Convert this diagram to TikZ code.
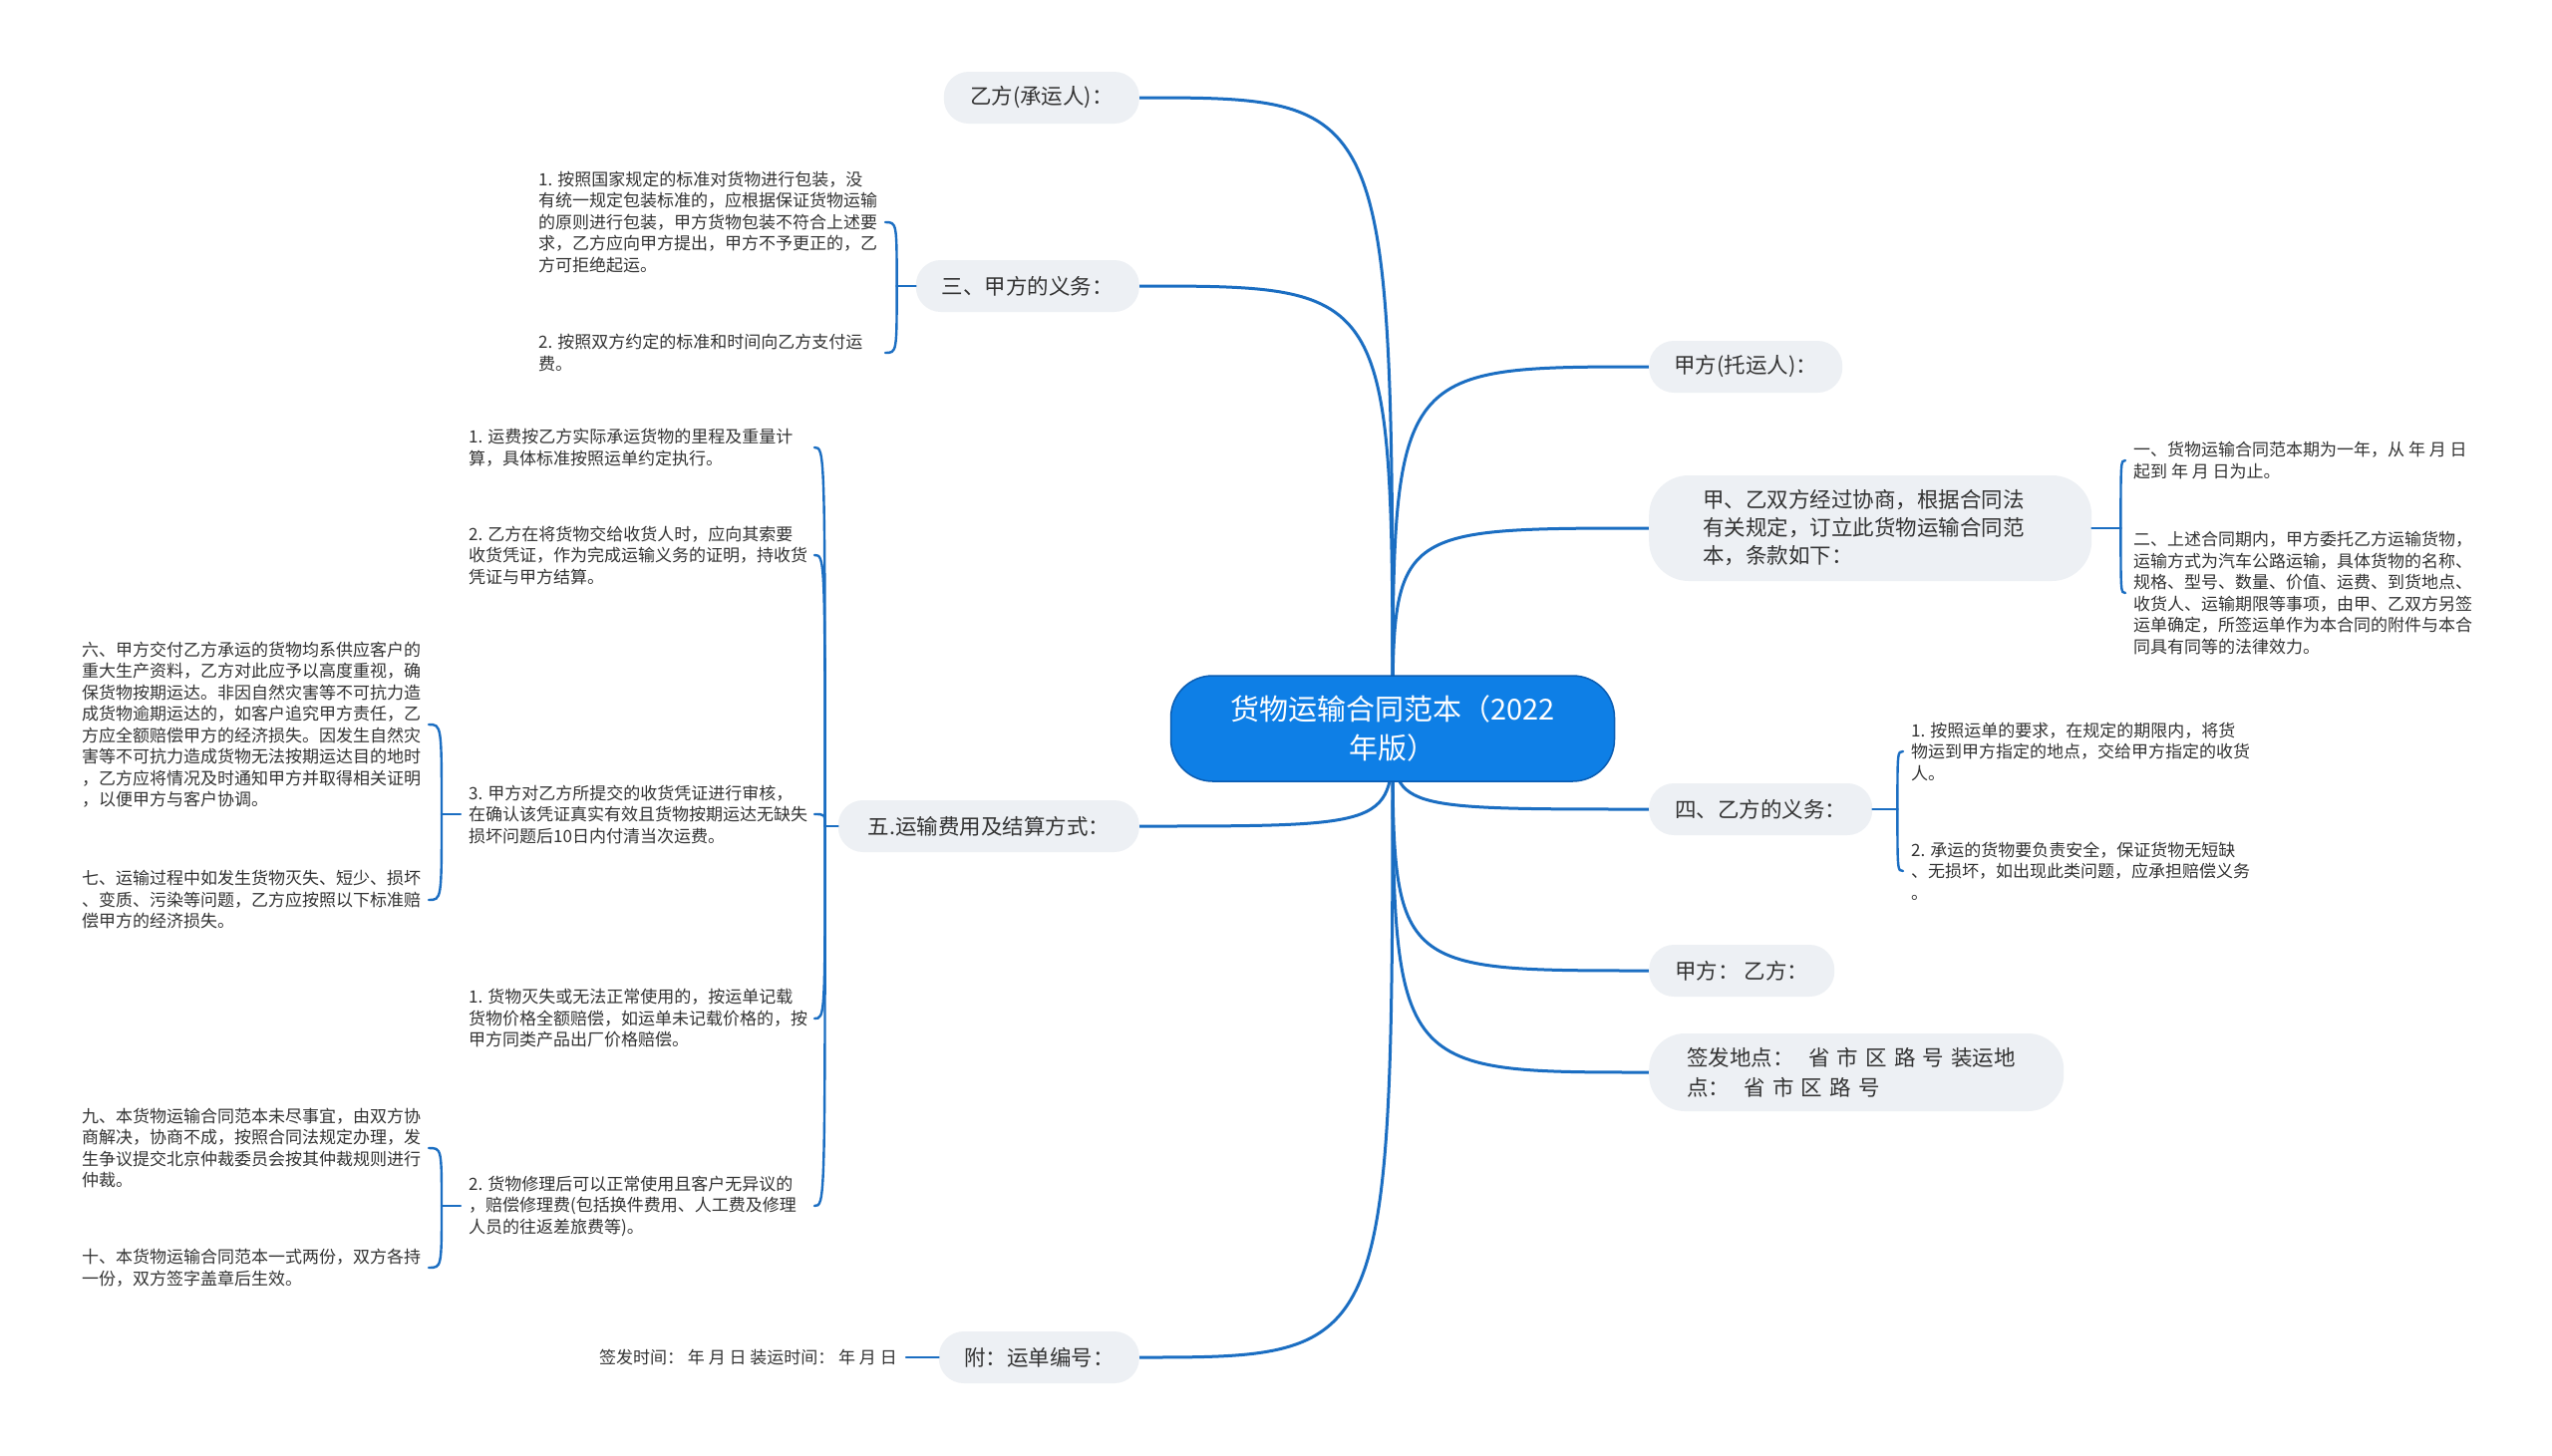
\documentclass[tikz,border=0pt]{standalone}
\usepackage{fontspec}
\setmainfont{Noto Sans CJK SC}
\usetikzlibrary{calc}
\definecolor{lineblue}{HTML}{1B6EC2}
\definecolor{boxfill}{HTML}{EDF0F4}
\definecolor{rootfill}{HTML}{0E7FE6}
\definecolor{rootdraw}{HTML}{0A5DB3}
\definecolor{txt}{HTML}{333333}
\pgfdeclarelayer{bg}
\pgfdeclarelayer{paper}
\pgfsetlayers{paper,bg,main}
\begin{document}
\begin{tikzpicture}[x=1pt,y=-1pt,
  root/.style={fill=rootfill, draw=rootdraw, line width=1.5pt, rounded corners=42pt, minimum width=445pt, minimum height=106pt, text=white, font=\fontsize{29}{39}\selectfont, align=center, inner sep=0pt},
  topic/.style={fill=boxfill, rounded corners=25pt, minimum height=52pt, text=txt, font=\fontsize{21.5}{28}\selectfont, inner sep=0pt, align=center},
  leaf/.style={text=txt, font=\fontsize{17}{21.5}\selectfont, align=left, inner sep=0pt},
  branch/.style={draw=lineblue, line width=3pt},
  brace/.style={draw=lineblue, line width=2.4pt, line cap=round},
]
\begin{pgfonlayer}{paper}
\fill[white] (0,0) rectangle (2560,1460);
\end{pgfonlayer}
\useasboundingbox (0,0) rectangle (2560,1460);

% root
\node[root] (root) at (1397,731) {货物运输合同范本（2022\\年版）};

% left topics
\node[topic, minimum width=196pt, anchor=east] (yi) at (1143,98) {乙方(承运人)：};
\node[topic, minimum width=224pt, anchor=east] (san) at (1143,287) {三、甲方的义务：};
\node[topic, minimum width=302pt, anchor=east] (wu) at (1143,829) {五.运输费用及结算方式：};
\node[topic, minimum width=201pt, anchor=east] (fu) at (1143,1362) {附：运单编号：};

% right topics
\node[topic, minimum width=194pt, anchor=west] (jia) at (1654,368) {甲方(托运人)：};
\node[topic, text width=336pt, inner xsep=54pt, minimum height=106pt, rounded corners=40pt, anchor=west, align=left] (xie) at (1654,530) {甲、乙双方经过协商，根据合同法\\有关规定，订立此货物运输合同范\\本，条款如下：};
\node[topic, minimum width=224pt, anchor=west] (si) at (1654,812) {四、乙方的义务：};
\node[topic, minimum width=186pt, anchor=west] (jy) at (1654,974) {甲方： 乙方：};
\node[topic, text width=340pt, inner xsep=38pt, minimum height=78pt, rounded corners=36pt, anchor=west, align=left, font=\fontsize{21.5}{30}\selectfont] (qf) at (1654,1076) {签发地点：\ \ 省 市 区 路 号 装运地\\点：\ \ 省 市 区 路 号};

% leaves of 三
\node[leaf, anchor=west] (s1) at (540,223) {1. 按照国家规定的标准对货物进行包装，没\\有统一规定包装标准的，应根据保证货物运输\\的原则进行包装，甲方货物包装不符合上述要\\求，乙方应向甲方提出，甲方不予更正的，乙\\方可拒绝起运。};
\node[leaf, anchor=west] (s2) at (540,354) {2. 按照双方约定的标准和时间向乙方支付运\\费。};

% leaves of 五
\node[leaf, anchor=west] (w1) at (470,449) {1. 运费按乙方实际承运货物的里程及重量计\\算，具体标准按照运单约定执行。};
\node[leaf, anchor=west] (w2) at (470,557) {2. 乙方在将货物交给收货人时，应向其索要\\收货凭证，作为完成运输义务的证明，持收货\\凭证与甲方结算。};
\node[leaf, anchor=west] (w3) at (470,817) {3. 甲方对乙方所提交的收货凭证进行审核，\\在确认该凭证真实有效且货物按期运达无缺失\\损坏问题后10日内付清当次运费。};
\node[leaf, anchor=west] (w4) at (470,1022) {1. 货物灭失或无法正常使用的，按运单记载\\货物价格全额赔偿，如运单未记载价格的，按\\甲方同类产品出厂价格赔偿。};
\node[leaf, anchor=west] (w5) at (470,1210) {2. 货物修理后可以正常使用且客户无异议的\\，赔偿修理费(包括换件费用、人工费及修理\\人员的往返差旅费等)。};

% leaves of w3
\node[leaf, anchor=west] (l6) at (82,727) {六、甲方交付乙方承运的货物均系供应客户的\\重大生产资料，乙方对此应予以高度重视，确\\保货物按期运达。非因自然灾害等不可抗力造\\成货物逾期运达的，如客户追究甲方责任，乙\\方应全额赔偿甲方的经济损失。因发生自然灾\\害等不可抗力造成货物无法按期运达目的地时\\，乙方应将情况及时通知甲方并取得相关证明\\，以便甲方与客户协调。};
\node[leaf, anchor=west] (l7) at (82,903) {七、运输过程中如发生货物灭失、短少、损坏\\、变质、污染等问题，乙方应按照以下标准赔\\偿甲方的经济损失。};

% leaves of w5
\node[leaf, anchor=west] (l9) at (82,1152) {九、本货物运输合同范本未尽事宜，由双方协\\商解决，协商不成，按照合同法规定办理，发\\生争议提交北京仲裁委员会按其仲裁规则进行\\仲裁。};
\node[leaf, anchor=west] (l10) at (82,1272) {十、本货物运输合同范本一式两份，双方各持\\一份，双方签字盖章后生效。};

% leaf of 附
\node[leaf, anchor=east] (fd) at (900,1362) {签发时间：  年 月 日 装运时间：  年 月 日};

% leaves of 甲乙双方
\node[leaf, anchor=west] (r1) at (2140,462) {一、货物运输合同范本期为一年，从 年 月 日\\起到 年 月 日为止。};
\node[leaf, anchor=west] (r2) at (2140,595) {二、上述合同期内，甲方委托乙方运输货物，\\运输方式为汽车公路运输，具体货物的名称、\\规格、型号、数量、价值、运费、到货地点、\\收货人、运输期限等事项，由甲、乙双方另签\\运单确定，所签运单作为本合同的附件与本合\\同具有同等的法律效力。};

% leaves of 四
\node[leaf, anchor=west] (q1) at (1917,754) {1. 按照运单的要求，在规定的期限内，将货\\物运到甲方指定的地点，交给甲方指定的收货\\人。};
\node[leaf, anchor=west] (q2) at (1917,874) {2. 承运的货物要负责安全，保证货物无短缺\\、无损坏，如出现此类问题，应承担赔偿义务\\。};

\begin{pgfonlayer}{bg}
  \foreach \n in {yi,san,wu,fu}
    \draw[branch] (root.center) .. controls (root.center |- \n.east) and (root.center |- \n.east) .. (\n.east);
  \foreach \n in {jia,xie,si,jy,qf}
    \draw[branch] (root.center) .. controls (root.center |- \n.west) and (root.center |- \n.west) .. (\n.west);
\end{pgfonlayer}

% brackets, left side
\coordinate (Jsan) at ($(san.west)+(-19,0)$);
\draw[brace] (san.west) -- (Jsan);
\foreach \c in {s1,s2}
  \draw[brace] (Jsan) .. controls (Jsan |- \c.west) and (Jsan |- \c.west) .. ($(\c.west)+(348,0)$);

\coordinate (Jwu) at ($(wu.west)+(-13,0)$);
\draw[brace] (wu.west) -- (Jwu);
\foreach \c in {w1,w2,w3,w4,w5}
  \draw[brace] (Jwu) .. controls (Jwu |- \c.west) and (Jwu |- \c.west) .. ($(\c.west)+(347,0)$);

\coordinate (Jw3) at ($(w3.west)+(-27,0)$);
\draw[brace] ($(w3.west)+(-8,0)$) -- (Jw3);
\foreach \c in {l6,l7}
  \draw[brace] (Jw3) .. controls (Jw3 |- \c.west) and (Jw3 |- \c.west) .. ($(\c.west)+(348,0)$);

\coordinate (Jw5) at ($(w5.west)+(-27,0)$);
\draw[brace] ($(w5.west)+(-8,0)$) -- (Jw5);
\foreach \c in {l9,l10}
  \draw[brace] (Jw5) .. controls (Jw5 |- \c.west) and (Jw5 |- \c.west) .. ($(\c.west)+(348,0)$);

\draw[brace] (fu.west) -- ($(fd.east)+(9,0)$);

% brackets, right side
\coordinate (Jxie) at ($(xie.east)+(29,0)$);
\draw[brace] (xie.east) -- (Jxie);
\foreach \c in {r1,r2}
  \draw[brace] (Jxie) .. controls (Jxie |- \c.west) and (Jxie |- \c.west) .. ($(\c.west)+(-8,0)$);

\coordinate (Jsi) at ($(si.east)+(25,0)$);
\draw[brace] (si.east) -- (Jsi);
\foreach \c in {q1,q2}
  \draw[brace] (Jsi) .. controls (Jsi |- \c.west) and (Jsi |- \c.west) .. ($(\c.west)+(-8,0)$);
\end{tikzpicture}
\end{document}
